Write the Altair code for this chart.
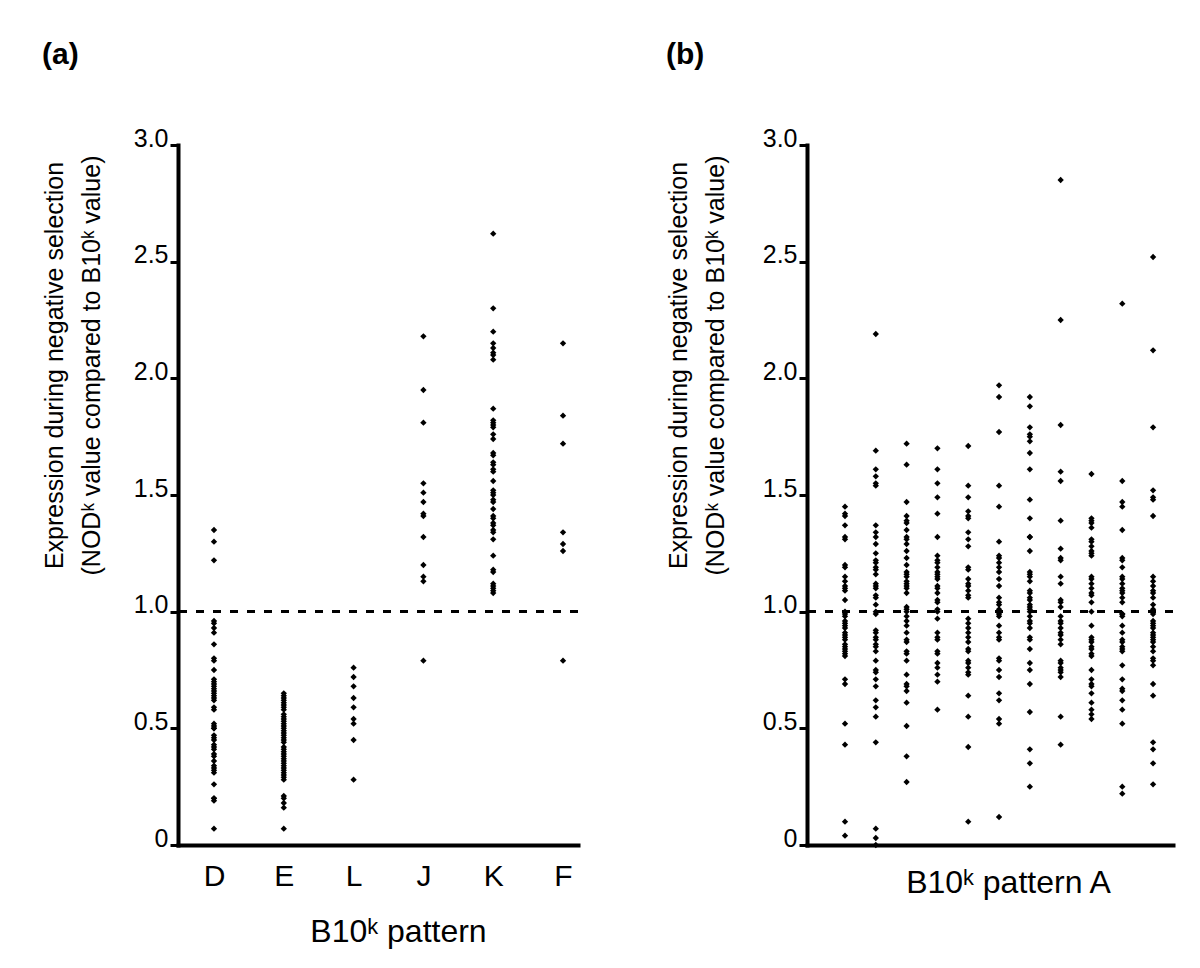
import altair as alt
import pandas as pd

FONT = "Liberation Sans, Arial, Helvetica, sans-serif"

# ---------------- panel (a) data ----------------
A_categories = ["D", "E", "L", "J", "K", "F"]
A_D = [1.35, 1.30, 1.22, 0.96, 0.95, 0.93, 0.91, 0.86, 0.80, 0.79, 0.75, 0.71, 0.70, 0.69,
       0.68, 0.67, 0.66, 0.65, 0.64, 0.63, 0.62, 0.59, 0.58, 0.52, 0.51, 0.50, 0.50, 0.47,
       0.46, 0.45, 0.43, 0.42, 0.41, 0.39, 0.38, 0.36, 0.34, 0.33, 0.32, 0.31, 0.26, 0.20,
       0.20, 0.19, 0.07]
A_E = [0.65, 0.64, 0.63, 0.62, 0.61, 0.60, 0.59, 0.58, 0.56, 0.55, 0.54, 0.53, 0.52, 0.51,
       0.50, 0.49, 0.48, 0.47, 0.46, 0.45, 0.44, 0.42, 0.41, 0.40, 0.39, 0.38, 0.37, 0.36,
       0.35, 0.34, 0.33, 0.32, 0.31, 0.30, 0.29, 0.28, 0.21, 0.20, 0.18, 0.16, 0.07]
A_L = [0.76, 0.72, 0.68, 0.63, 0.59, 0.54, 0.52, 0.45, 0.28]
A_J = [2.18, 1.95, 1.81, 1.55, 1.51, 1.47, 1.42, 1.41, 1.32, 1.20, 1.15, 1.13, 0.79]
A_K = [2.62, 2.30, 2.20, 2.15, 2.13, 2.11, 2.10, 2.08, 1.87, 1.82, 1.81, 1.80, 1.79, 1.76,
       1.74, 1.68, 1.67, 1.64, 1.63, 1.61, 1.60, 1.56, 1.52, 1.51, 1.50, 1.48, 1.47, 1.44,
       1.41, 1.40, 1.38, 1.37, 1.35, 1.34, 1.31, 1.24, 1.18, 1.17, 1.12, 1.11, 1.10, 1.09,
       1.08]
A_F = [2.15, 1.84, 1.72, 1.34, 1.29, 1.26, 0.79]

# ---------------- panel (b) data (11 columns of pattern A) ----------------
B_columns = list(range(1, 12))
B_c1 = [1.45, 1.42, 1.41, 1.37, 1.32, 1.31, 1.20, 1.19, 1.15, 1.13, 1.11, 1.10, 1.09, 1.05,
        1.00, 0.99, 0.98, 0.96, 0.95, 0.94, 0.93, 0.91, 0.90, 0.89, 0.88, 0.86, 0.85, 0.84,
        0.83, 0.82, 0.81, 0.71, 0.69, 0.52, 0.43, 0.10, 0.04]
B_c2 = [2.19, 1.69, 1.61, 1.58, 1.55, 1.54, 1.37, 1.34, 1.32, 1.29, 1.25, 1.22, 1.21, 1.19,
        1.18, 1.16, 1.12, 1.11, 1.10, 1.07, 1.06, 1.03, 1.00, 0.99, 0.92, 0.91, 0.89, 0.88,
        0.86, 0.85, 0.83, 0.79, 0.75, 0.74, 0.71, 0.68, 0.62, 0.59, 0.55, 0.44, 0.07, 0.03,
        0.00]
B_c3 = [1.72, 1.63, 1.47, 1.41, 1.39, 1.38, 1.35, 1.32, 1.31, 1.29, 1.26, 1.23, 1.20, 1.17,
        1.16, 1.15, 1.13, 1.12, 1.11, 1.10, 1.08, 1.02, 1.01, 1.00, 0.98, 0.96, 0.94, 0.91,
        0.88, 0.87, 0.83, 0.82, 0.79, 0.73, 0.69, 0.68, 0.66, 0.61, 0.51, 0.38, 0.27]
B_c4 = [1.70, 1.61, 1.55, 1.49, 1.42, 1.32, 1.24, 1.22, 1.21, 1.19, 1.17, 1.16, 1.15, 1.14,
        1.11, 1.10, 1.08, 1.05, 1.04, 1.01, 1.00, 0.97, 0.91, 0.89, 0.88, 0.83, 0.82, 0.78,
        0.76, 0.73, 0.70, 0.58]
B_c5 = [1.71, 1.54, 1.49, 1.43, 1.41, 1.40, 1.34, 1.31, 1.28, 1.19, 1.18, 1.14, 1.12, 1.11,
        1.09, 1.07, 1.06, 0.97, 0.95, 0.93, 0.91, 0.89, 0.87, 0.84, 0.83, 0.79, 0.78, 0.76,
        0.74, 0.73, 0.64, 0.55, 0.42, 0.10]
B_c6 = [1.97, 1.92, 1.77, 1.54, 1.45, 1.30, 1.24, 1.23, 1.21, 1.19, 1.17, 1.14, 1.11, 1.06,
        1.04, 1.03, 1.01, 1.00, 0.99, 0.98, 0.94, 0.91, 0.89, 0.88, 0.80, 0.79, 0.75, 0.72,
        0.65, 0.62, 0.54, 0.52, 0.12]
B_c7 = [1.92, 1.88, 1.79, 1.76, 1.75, 1.73, 1.68, 1.61, 1.48, 1.40, 1.32, 1.32, 1.26, 1.17,
        1.16, 1.15, 1.13, 1.09, 1.08, 1.06, 1.05, 1.03, 1.02, 1.01, 1.00, 0.98, 0.96, 0.95,
        0.93, 0.89, 0.88, 0.84, 0.78, 0.75, 0.69, 0.57, 0.41, 0.35, 0.25]
B_c8 = [2.85, 2.25, 1.80, 1.60, 1.56, 1.39, 1.27, 1.23, 1.22, 1.15, 1.12, 1.05, 1.04, 1.02,
        0.98, 0.96, 0.95, 0.93, 0.91, 0.90, 0.88, 0.86, 0.79, 0.78, 0.76, 0.75, 0.74, 0.72,
        0.55, 0.43]
B_c9 = [1.59, 1.40, 1.39, 1.38, 1.36, 1.31, 1.30, 1.28, 1.26, 1.25, 1.24, 1.15, 1.14, 1.12,
        1.10, 1.08, 1.07, 1.04, 1.00, 0.94, 0.89, 0.88, 0.87, 0.85, 0.84, 0.82, 0.81, 0.75,
        0.71, 0.69, 0.68, 0.65, 0.61, 0.58, 0.56, 0.54]
B_c10 = [2.32, 1.56, 1.47, 1.45, 1.35, 1.23, 1.22, 1.19, 1.15, 1.14, 1.12, 1.10, 1.09, 1.08,
         1.06, 1.04, 0.99, 0.99, 0.98, 0.94, 0.91, 0.88, 0.87, 0.85, 0.84, 0.83, 0.77, 0.71,
         0.67, 0.66, 0.62, 0.58, 0.52, 0.25, 0.22]
B_c11 = [2.52, 2.12, 1.79, 1.52, 1.49, 1.48, 1.41, 1.15, 1.13, 1.11, 1.09, 1.08, 1.06, 1.03,
         1.01, 0.99, 0.96, 0.95, 0.94, 0.93, 0.91, 0.90, 0.89, 0.88, 0.87, 0.85, 0.83, 0.80,
         0.79, 0.77, 0.69, 0.64, 0.44, 0.41, 0.35, 0.26]

y_ticks = [0, 0.5, 1.0, 1.5, 2.0, 2.5, 3.0]
y_title = ["Expression during negative selection", "(NOD\u1d4f value compared to B10\u1d4f value)"]

# ---------------- tables ----------------
A_series = [A_D, A_E, A_L, A_J, A_K, A_F]
df_a = pd.DataFrame([
    {"pattern": c, "value": v}
    for c, vals in zip(A_categories, A_series) for v in vals
])
B_series = [B_c1, B_c2, B_c3, B_c4, B_c5, B_c6, B_c7, B_c8, B_c9, B_c10, B_c11]
df_b = pd.DataFrame([
    {"gene": c, "value": v}
    for c, vals in zip(B_columns, B_series) for v in vals
])

yscale = alt.Scale(domain=[0, 3], nice=False, zero=True)


def y_axis(title_x):
    return alt.Axis(
        values=y_ticks,
        labelExpr="datum.value == 0 ? '0' : format(datum.value, '.1f')",
        labelFont=FONT, labelFontSize=25, labelColor="black",
        labelBaseline="alphabetic", labelPadding=2, labelOffset=1,
        tickSize=8, tickWidth=3, tickColor="black",
        domainWidth=4, domainColor="black", domainCap="square",
        grid=False,
        title=y_title, titleFont=FONT, titleFontSize=25, titleFontWeight="normal",
        titleColor="black", titleLineHeight=37,
        titleAngle=-90, titleAlign="center", titleBaseline="alphabetic",
        titleX=title_x, titleY=220,
    )


point_mark = dict(shape="diamond", filled=True, size=40, color="black", opacity=1)
rule_mark = dict(strokeDash=[8, 9], strokeWidth=2.5, color="black")

# ---------------- panel (a) ----------------
pts_a = alt.Chart(df_a).mark_point(**point_mark).encode(
    x=alt.X("pattern:N", sort=A_categories,
            scale=alt.Scale(type="point", padding=0.365, align=0.706),
            axis=alt.Axis(labelFont=FONT, labelFontSize=30, labelColor="black",
                          labelAngle=0, labelPadding=16, ticks=False, tickSize=0,
                          domainWidth=4, domainColor="black", domainCap="square",
                          title="B10\u1d4f pattern", titleFont=FONT, titleFontSize=32,
                          titleFontWeight="normal", titleColor="black",
                          titleX=220, titleY=96, titleAlign="center",
                          titleBaseline="alphabetic")),
    y=alt.Y("value:Q", scale=yscale, axis=y_axis(-116)),
)
rule_a = alt.Chart(df_a).mark_rule(**rule_mark).encode(y=alt.datum(1.0))
panel_a = alt.layer(rule_a, pts_a).properties(
    width=400, height=700,
    title=alt.TitleParams("(a)", anchor="start", frame="bounds", font=FONT,
                          fontSize=30, fontWeight="bold", color="black", offset=56),
)

# ---------------- panel (b) ----------------
pts_b = alt.Chart(df_b).mark_point(**point_mark).encode(
    x=alt.X("gene:O", sort=B_columns,
            scale=alt.Scale(type="point", padding=0.94, align=0.656),
            axis=alt.Axis(labels=False, ticks=False, tickSize=0,
                          domainWidth=4, domainColor="black", domainCap="square",
                          title="B10\u1d4f pattern A", titleFont=FONT, titleFontSize=32,
                          titleFontWeight="normal", titleColor="black",
                          titleX=201, titleY=47, titleAlign="center",
                          titleBaseline="alphabetic")),
    y=alt.Y("value:Q", scale=yscale, axis=y_axis(-121)),
)
rule_b = alt.Chart(df_b).mark_rule(**rule_mark).encode(y=alt.datum(1.0))
panel_b = alt.layer(rule_b, pts_b).properties(
    width=366, height=700,
    title=alt.TitleParams("(b)", anchor="start", frame="bounds", font=FONT,
                          fontSize=30, fontWeight="bold", color="black", offset=56),
)

chart = alt.hconcat(panel_a, panel_b, spacing=85).properties(
    padding={"left": 33, "top": 32, "right": 5, "bottom": 5},
    background="white",
).configure_view(stroke=None)

chart.save("out.html", embed_options={"renderer": "svg", "actions": False})
